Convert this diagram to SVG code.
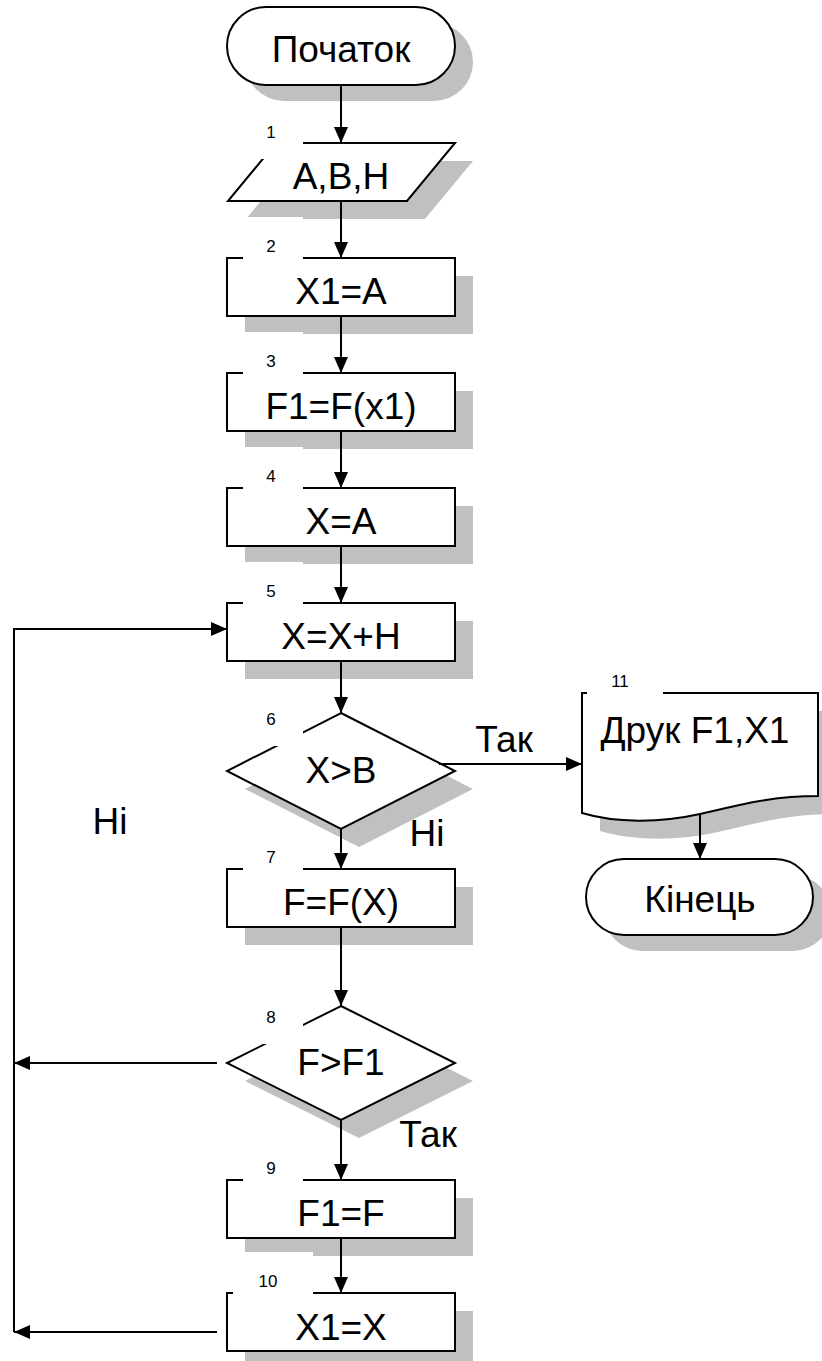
<svg xmlns="http://www.w3.org/2000/svg" width="822" height="1361" viewBox="0 0 822 1361">
<style>
.sh{fill:#c0c0c0;stroke:none}
.sp{fill:#fff;stroke:#000;stroke-width:2}
.t{font-family:"Liberation Sans",Arial,sans-serif;font-size:37px;fill:#000;text-anchor:middle}
.n{font-family:"Liberation Sans",Arial,sans-serif;font-size:17px;fill:#000;text-anchor:middle}
.lb{fill:#fff;stroke:none}
.c{fill:none;stroke:#000;stroke-width:2}
</style>
<defs>
<marker id="ah" markerUnits="userSpaceOnUse" markerWidth="17" markerHeight="14" refX="16" refY="7" orient="auto">
<path d="M0,0 L16,7 L0,14 z" fill="#000"/>
</marker>
</defs>
<rect width="822" height="1361" fill="#fff"/>

<g id="start">
<rect class="sh" x="245" y="23" width="228" height="78" rx="39"/>
<rect class="sp" x="227" y="7" width="228" height="78" rx="39"/>
<text class="t" x="341" y="62">Початок</text>
</g>

<g id="n1">
<polygon class="sh" points="294,161 473,161 425,219 246,219"/>
<polygon class="sp" points="276,143 455,143 407,201 228,201"/>
<rect class="lb" x="243" y="103" width="60" height="56"/>
<text class="n" x="271" y="138">1</text>
<text class="t" x="341" y="189">A,B,H</text>
</g>

<g id="n2">
<rect class="sh" x="245" y="276" width="228" height="58"/>
<rect class="sp" x="227" y="258" width="228" height="58"/>
<rect class="lb" x="243" y="217" width="60" height="44"/>
<text class="n" x="271" y="252">2</text>
<text class="t" x="341" y="304">X1=A</text>
</g>

<g id="n3">
<rect class="sh" x="245" y="391" width="228" height="58"/>
<rect class="sp" x="227" y="373" width="228" height="58"/>
<rect class="lb" x="243" y="332" width="60" height="44"/>
<text class="n" x="271" y="367">3</text>
<text class="t" x="341" y="419">F1=F(x1)</text>
</g>

<g id="n4">
<rect class="sh" x="245" y="506" width="228" height="58"/>
<rect class="sp" x="227" y="488" width="228" height="58"/>
<rect class="lb" x="243" y="447" width="60" height="44"/>
<text class="n" x="271" y="482">4</text>
<text class="t" x="341" y="534">X=A</text>
</g>

<g id="n5">
<rect class="sh" x="245" y="621" width="228" height="58"/>
<rect class="sp" x="227" y="603" width="228" height="58"/>
<rect class="lb" x="243" y="562" width="60" height="44"/>
<text class="n" x="271" y="597">5</text>
<text class="t" x="341" y="649">X=X+H</text>
</g>

<g id="n6">
<polygon class="sh" points="359,731 473,789 359,847 245,789"/>
<polygon class="sp" points="341,713 455,771 341,829 227,771"/>
<rect class="lb" x="243" y="690" width="60" height="56"/>
<text class="n" x="271" y="725">6</text>
<text class="t" x="341" y="783">X&gt;B</text>
</g>

<g id="n7">
<rect class="sh" x="245" y="887" width="228" height="58"/>
<rect class="sp" x="227" y="869" width="228" height="58"/>
<rect class="lb" x="243" y="828" width="60" height="44"/>
<text class="n" x="271" y="863">7</text>
<text class="t" x="341" y="915">F=F(X)</text>
</g>

<g id="n8">
<polygon class="sh" points="359,1024 473,1081 359,1138 245,1081"/>
<polygon class="sp" points="341,1006 455,1063 341,1120 227,1063"/>
<rect class="lb" x="243" y="988" width="60" height="56"/>
<text class="n" x="271" y="1023">8</text>
<text class="t" x="341" y="1075">F&gt;F1</text>
</g>

<g id="n9">
<rect class="sh" x="245" y="1198" width="228" height="58"/>
<rect class="sp" x="227" y="1180" width="228" height="58"/>
<rect class="lb" x="243" y="1139" width="60" height="44"/>
<text class="n" x="271" y="1174">9</text>
<text class="t" x="341" y="1226">F1=F</text>
</g>

<g id="n10">
<rect class="sh" x="245" y="1311" width="228" height="58"/>
<rect class="sp" x="227" y="1293" width="228" height="58"/>
<rect class="lb" x="233" y="1252" width="80" height="44"/>
<text class="n" x="268" y="1287">10</text>
<text class="t" x="341" y="1340">X1=X</text>
</g>

<g id="n11">
<path class="sh" d="M600,711 H836 V814 C788,814 758,823 718,832 C678,841 633,841 600,831 Z"/>
<path class="sp" d="M582,693 H818 V796 C770,796 740,805 700,814 C660,823 615,823 582,813 Z"/>
<rect class="lb" x="587" y="652" width="76" height="44"/>
<text class="n" x="620" y="687">11</text>
<text class="t" x="695" y="743">Друк F1,X1</text>
</g>

<g id="end">
<rect class="sh" x="604" y="875" width="227" height="76" rx="38"/>
<rect class="sp" x="586" y="859" width="227" height="76" rx="38"/>
<text class="t" x="700" y="912">Кінець</text>
</g>

<g id="connectors">
<line class="c" x1="341" y1="85" x2="341" y2="143" marker-end="url(#ah)"/>
<line class="c" x1="341" y1="201" x2="341" y2="258" marker-end="url(#ah)"/>
<line class="c" x1="341" y1="316" x2="341" y2="373" marker-end="url(#ah)"/>
<line class="c" x1="341" y1="431" x2="341" y2="488" marker-end="url(#ah)"/>
<line class="c" x1="341" y1="546" x2="341" y2="603" marker-end="url(#ah)"/>
<line class="c" x1="341" y1="661" x2="341" y2="713" marker-end="url(#ah)"/>
<line class="c" x1="341" y1="829" x2="341" y2="869" marker-end="url(#ah)"/>
<line class="c" x1="341" y1="927" x2="341" y2="1006" marker-end="url(#ah)"/>
<line class="c" x1="341" y1="1120" x2="341" y2="1180" marker-end="url(#ah)"/>
<line class="c" x1="341" y1="1238" x2="341" y2="1293" marker-end="url(#ah)"/>
<line class="c" x1="439" y1="764" x2="582" y2="764" marker-end="url(#ah)"/>
<line class="c" x1="700" y1="814" x2="700" y2="859" marker-end="url(#ah)"/>
<line class="c" x1="217" y1="1063" x2="14" y2="1063" marker-end="url(#ah)"/>
<line class="c" x1="217" y1="1332" x2="14" y2="1332" marker-end="url(#ah)"/>
<polyline class="c" points="14,1332 14,629 227,629" marker-end="url(#ah)"/>
<text class="t" x="504" y="752">Так</text>
<text class="t" x="427" y="846">Ні</text>
<text class="t" x="110" y="834">Ні</text>
<text class="t" x="428" y="1147">Так</text>
</g>
</svg>
